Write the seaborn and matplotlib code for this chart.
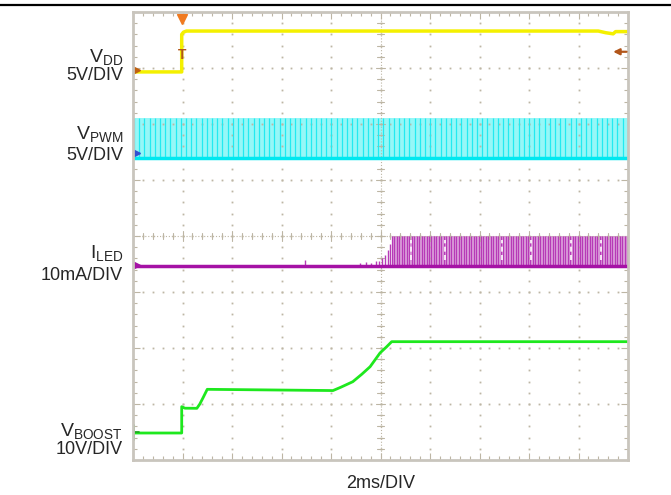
import numpy as np
import pandas as pd
import seaborn as sns
import matplotlib.pyplot as plt
from matplotlib.lines import Line2D

# scope trace values, in divisions (x: 0..10, y: 0..8 from bottom)
vdd_t = [0, 0.984, 0.984, 1.02, 1.08, 9.40, 9.55, 9.70, 9.75, 10]
vdd_v = [6.93, 6.93, 7.60, 7.64, 7.66, 7.66, 7.63, 7.61, 7.65, 7.65]

pwm_low, pwm_high = 5.39, 6.11
pwm_period = 0.105

iled_low, iled_high = 3.47, 4.00
iled_start = 5.23
iled_period = 0.05
iled_ramp_t = [3.47, 4.58, 4.70, 4.80, 4.90, 4.97, 5.04, 5.10, 5.15, 5.19]
iled_ramp_top = [3.57, 3.52, 3.53, 3.52, 3.55, 3.56, 3.60, 3.66, 3.75, 3.85]

vboost_t = [0, 0.984, 0.984, 1.05, 1.29, 1.35, 1.42, 1.50, 4.04, 4.20,
            4.44, 4.62, 4.79, 4.99, 5.125, 5.226, 10]
vboost_v = [0.482, 0.482, 0.952, 0.925, 0.923, 1.00, 1.12, 1.262, 1.24, 1.30,
            1.398, 1.53, 1.666, 1.911, 2.023, 2.113, 2.113]

labels = [("V$_{\\mathrm{DD}}$", "5V/DIV", 57, 76),
          ("V$_{\\mathrm{PWM}}$", "5V/DIV", 134, 156),
          ("I$_{\\mathrm{LED}}$", "10mA/DIV", 253, 276),
          ("V$_{\\mathrm{BOOST}}$", "10V/DIV", 431, 450)]
x_label = "2ms/DIV"

sns.set_style("white")
plt.rcParams['font.family'] = ['Liberation Sans', 'DejaVu Sans']
plt.rcParams['mathtext.fontset'] = 'custom'
plt.rcParams['mathtext.rm'] = 'Liberation Sans'
plt.rcParams['mathtext.it'] = 'Liberation Sans:italic'

W, H = 671, 495
fig = plt.figure(figsize=(W / 100, H / 100), dpi=100)
ax = fig.add_axes([133 / W, 35 / H, 495 / W, 448 / H])
ax.set_xlim(0, 10)
ax.set_ylim(0, 8)

# graticule
gcol = '#bdb6a4'
ys = np.arange(0, 8.01, 0.2)
xs = np.arange(0, 10.01, 0.2)
for gx in range(1, 10):
    ax.plot(np.full_like(ys, gx), ys, ls='', marker='s', ms=1.3, color=gcol, mew=0)
for gy in range(1, 8):
    ax.plot(xs, np.full_like(xs, gy), ls='', marker='s', ms=1.3, color=gcol, mew=0)
ax.plot(xs, np.full_like(xs, 4), ls=':', lw=0.8, color=gcol)
ax.plot(np.full_like(ys, 5), ys, ls=':', lw=0.8, color=gcol)
for x in xs:
    h = 0.09 if abs(x - round(x)) < 1e-6 else 0.05
    ax.plot([x, x], [4 - h, 4 + h], color=gcol, lw=0.8)
for y in ys:
    w = 0.1 if abs(y - round(y)) < 1e-6 else 0.07
    ax.plot([5 - w, 5 + w], [y, y], color=gcol, lw=0.8)

ax.set_xticks(range(11))
ax.set_yticks(range(9))
ax.set_xticks(xs, minor=True)
ax.set_yticks(ys, minor=True)
ax.tick_params(which='both', direction='in', top=True, right=True, left=True, bottom=True,
               labelbottom=False, labelleft=False, color=gcol)
ax.tick_params(which='major', length=5, width=0.8)
ax.tick_params(which='minor', length=3, width=0.8)
for s in ax.spines.values():
    s.set_color('#c9c5bd')
    s.set_linewidth(2)

# V_PWM: dense pulses
ax.fill_between([0, 10], pwm_low, pwm_high, color='#96f7f7', lw=0)
pulses = np.arange(0.02, 10, pwm_period)
ax.vlines(pulses, pwm_low, pwm_high, color='#22eaf0', lw=0.9)
ax.plot([0, 10], [pwm_low, pwm_low], color='#00e8f0', lw=2.5)

# I_LED
ax.fill_between([iled_start, 10], iled_low, iled_high, color='#dba0db', lw=0)
ip = np.arange(iled_start, 10, iled_period)
ax.vlines(ip, iled_low, iled_high, color='#b73ab7', lw=0.9)
ax.vlines([5.62, 6.30, 7.45, 8.05, 8.85, 9.45], iled_low + 0.1, iled_high - 0.08,
          color='white', lw=1.2, linestyles=(0, (3, 2)))
ax.vlines(iled_ramp_t, iled_low, iled_ramp_top, color='#b73ab7', lw=1.0)
ax.plot([0, 10], [iled_low, iled_low], color='#a512a5', lw=2.5)

# V_DD and V_BOOST
sns.lineplot(x=vdd_t, y=vdd_v, sort=False, estimator=None, ax=ax, color='#f4f000', lw=2.5)
sns.lineplot(x=vboost_t, y=vboost_v, sort=False, estimator=None, ax=ax, color='#1ee81e', lw=2)

# markers
ax.plot(0.984, 7.88, marker='v', ms=7, color='#f07a20', clip_on=False)
ax.text(0.984, 7.23, 'T', color='#b2561a', fontsize=10, fontweight='bold', ha='center', va='center')
ax.annotate('', xy=(9.70, 7.29), xytext=(9.97, 7.29),
            arrowprops=dict(arrowstyle='-|>', color='#b2561a', lw=1.6, mutation_scale=9,
                            shrinkA=0, shrinkB=0))
ax.plot(0.08, 6.96, marker='>', ms=4, color='#c06010', clip_on=False)
ax.plot(0.08, 5.48, marker='>', ms=4, color='#3050d0', clip_on=False)
ax.plot(0.08, 3.48, marker='>', ms=4, color='#a512a5', clip_on=False)
ax.plot([0.03, 0.03], [0.36, 0.62], color='#20a020', lw=1.2)
ax.plot([0.03, 0.12], [0.5, 0.5], color='#20a020', lw=1.2)

# channel labels
for name, scale, y1, y2 in labels:
    fig.text(123 / W, 1 - y1 / H, name, ha='right', va='center', fontsize=14)
    fig.text(123 / W, 1 - y2 / H, scale, ha='right', va='center', fontsize=13)
fig.text(381 / W, 1 - 483 / H, x_label, ha='center', va='center', fontsize=13)

fig.add_artist(Line2D([0, 1], [1 - 5 / H, 1 - 5 / H], color='black', lw=1.6))

fig.savefig('out.png', dpi=100)
